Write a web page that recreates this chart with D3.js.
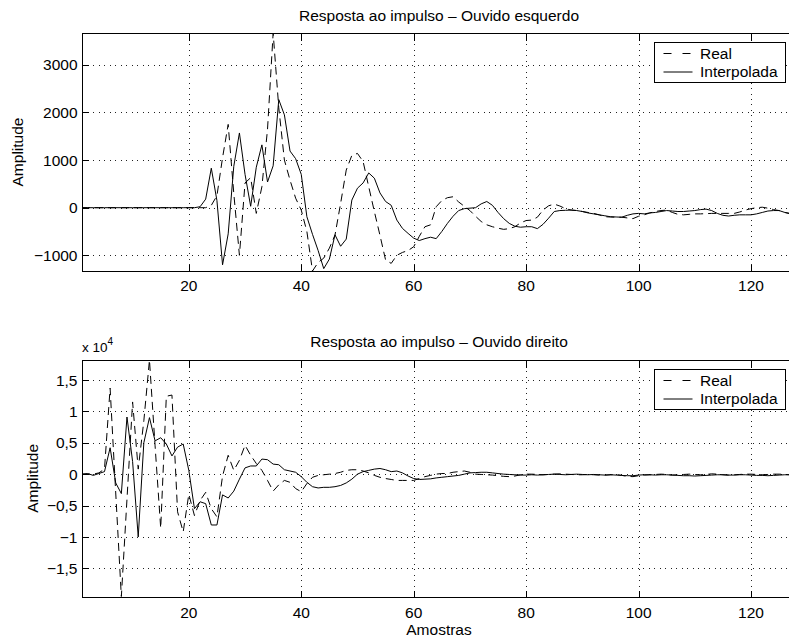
<!DOCTYPE html>
<html>
<head>
<meta charset="utf-8">
<script src="https://cdn.jsdelivr.net/npm/d3@7"></script>
<style>
  html, body { margin: 0; padding: 0; background: #fff; overflow: hidden; }
  svg { display: block; font-family: "Liberation Sans", Arial, Helvetica, sans-serif; }
</style>
</head>
<body>
<svg id="fig" width="789" height="641"></svg>
<script>
// Sample axis
const sampleCount = 128;
const xTicks = [20, 40, 60, 80, 100, 120];
const seriesNames = ["Real", "Interpolada"];
const titles = ["Resposta ao impulso \u2013 Ouvido esquerdo", "Resposta ao impulso \u2013 Ouvido direito"];

// Left ear impulse response (amplitude)
const leftReal = [
  0,0,0,0,0,0,0,0,0,0, 0,0,0,0,0,0,0,0,0,0,
  0,0,0,50,250,1050,1750,300,-1000,520,
  630,-120,440,1650,3670,2100,1000,580,200,-50,
  -500,-1330,-1150,-1060,-850,-575,90,790,1100,1140,
  970,440,-80,-580,-1100,-1170,-1000,-940,-900,-820,
  -600,-400,-360,20,150,210,230,120,30,-60,
  -180,-290,-360,-400,-430,-455,-440,-400,-320,-270,
  -260,-200,-50,40,75,35,-20,-50,-60,-80,
  -100,-120,-150,-190,-195,-200,-200,-215,-230,-180,
  -150,-110,-80,-60,-50,-100,-140,-150,-140,-130,
  -130,-125,-120,-120,-120,-120,-120,-90,-50,-20,
  0,10,-10,-40,-60,-100,-120,-130
];
const leftInterp = [
  0,0,0,0,0,0,0,0,0,0, 0,0,0,0,0,0,0,0,0,0,
  0,20,180,830,150,-1200,-550,870,1570,700,
  30,850,1320,540,880,2270,1950,1190,1030,700,
  -190,-560,-900,-1280,-1080,-570,-810,-660,160,410,
  520,730,620,310,130,50,-260,-435,-540,-640,
  -690,-650,-620,-650,-500,-330,-180,-60,-20,-10,
  0,80,130,50,-100,-230,-330,-390,-410,-400,
  -400,-440,-350,-220,-80,-60,-55,-50,-60,-80,
  -110,-130,-150,-170,-190,-195,-200,-160,-130,-120,
  -130,-110,-100,-80,-60,-70,-80,-80,-70,-60,
  -40,-30,-60,-120,-160,-175,-160,-150,-150,-150,
  -130,-100,-70,-60,-60,-100,-130,-140
];
const leftTicks = [-1000, 0, 1000, 2000, 3000];
const leftTickLabels = ["\u22121000", "0", "1000", "2000", "3000"];

// Right ear impulse response (amplitude, in units of 10^4)
const rightExponent = 4;
const rightReal = [
  0,0,0,0.02,0.08,1.37,-0.3,-1.952,-0.4,1.15,
  0.08,0.85,1.818,0.45,-0.86,1.24,1.26,-0.6,-0.92,-0.32,
  -0.66,-0.42,-0.29,-0.55,-0.68,-0.03,0.3,0.06,0.22,0.46,
  0.3,0.17,0.06,-0.1,-0.27,-0.17,-0.1,-0.13,-0.23,-0.28,
  -0.15,-0.05,-0.02,-0.01,0,0.01,0.03,0.06,0.07,0.07,
  0.05,0.02,-0.02,-0.05,-0.07,-0.085,-0.1,-0.1,-0.1,-0.1,
  -0.07,-0.04,-0.02,0,0.01,0.01,0.03,0.04,0.05,0.03,
  0,-0.005,-0.01,-0.015,-0.025,-0.035,-0.04,-0.03,-0.01,0,
  0,-0.005,-0.01,-0.005,0,0.005,0,-0.005,-0.01,-0.01,
  -0.005,-0.01,-0.015,-0.015,-0.01,-0.005,-0.02,-0.035,-0.04,-0.025,
  -0.015,-0.01,-0.005,0,-0.005,-0.015,-0.01,-0.005,0,-0.005,
  -0.01,-0.005,0.005,0,-0.01,-0.015,-0.01,-0.005,0,0,
  -0.005,-0.01,-0.005,0,0,-0.005,-0.01,-0.01
];
const rightInterp = [
  0,0.01,-0.02,0.01,0.04,0.42,-0.14,-0.31,0.91,0.2,
  -1.0,0.5,0.9,0.53,0.58,0.48,0.29,0.43,0.48,0.06,
  -0.55,-0.44,-0.47,-0.81,-0.81,-0.33,-0.38,-0.27,-0.08,0.1,
  0.13,0.13,0.24,0.23,0.16,0.15,0.07,0.05,0.03,-0.04,
  -0.13,-0.2,-0.22,-0.21,-0.21,-0.2,-0.18,-0.14,-0.08,0,
  0.04,0.06,0.08,0.09,0.07,0.04,0.05,0.02,-0.03,-0.07,
  -0.085,-0.08,-0.075,-0.06,-0.05,-0.04,-0.03,-0.02,0,0.02,
  0.025,0.03,0.03,0.02,0.01,0,-0.005,-0.01,-0.015,-0.015,
  -0.01,-0.015,-0.01,-0.005,0,-0.005,-0.01,-0.005,0,-0.005,
  -0.01,-0.005,-0.01,-0.015,-0.01,-0.015,-0.02,-0.025,-0.025,-0.015,
  -0.01,-0.01,-0.015,-0.01,-0.01,-0.015,-0.02,-0.025,-0.025,-0.03,
  -0.025,-0.02,-0.015,-0.01,-0.01,-0.015,-0.015,-0.01,-0.01,-0.015,
  -0.02,-0.02,-0.025,-0.02,-0.015,-0.01,-0.01,-0.01
];
const rightTicks = [-1.5, -1, -0.5, 0, 0.5, 1, 1.5];
const rightTickLabels = ["\u22121,5", "\u22121", "\u22120,5", "0", "0,5", "1", "1,5"];

const samples = d3.range(1, sampleCount + 1);

const svg = d3.select("#fig");
const FONT = 15.5;
const left = 82, right = 796;

const panels = [
  { title: titles[0], real: leftReal, interp: leftInterp, ticks: leftTicks, labels: leftTickLabels,
    top: 33, bottom: 271, titleY: 21, xLabelY: 290.5, yLabelX: 23, exponent: null },
  { title: titles[1], real: rightReal, interp: rightInterp, ticks: rightTicks, labels: rightTickLabels,
    top: 360, bottom: 596.7, titleY: 347, xLabelY: 618, yLabelX: 37.5, exponent: rightExponent }
];

const x = d3.scaleLinear().domain([1, sampleCount]).range([left, right]);
const TICK = 7;

panels.forEach((p, i) => {
  const all = p.real.concat(p.interp);
  const y = d3.scaleLinear().domain(d3.extent(all)).range([p.bottom, p.top]);
  const g = svg.append("g");

  const clipId = "clip" + i;
  svg.append("clipPath").attr("id", clipId)
    .append("rect").attr("x", left).attr("y", p.top)
    .attr("width", right - left).attr("height", p.bottom - p.top);

  // dotted grid
  const grid = g.append("g").attr("stroke", "#222").attr("stroke-width", 1)
    .attr("stroke-dasharray", "1,4.5").attr("shape-rendering", "crispEdges");
  grid.selectAll("line.v").data(xTicks).join("line")
    .attr("x1", d => Math.round(x(d)) + 0.5).attr("x2", d => Math.round(x(d)) + 0.5)
    .attr("y1", p.top).attr("y2", p.bottom);
  grid.selectAll("line.h").data(p.ticks).join("line")
    .attr("x1", left).attr("x2", right)
    .attr("y1", d => Math.round(y(d)) + 0.5).attr("y2", d => Math.round(y(d)) + 0.5);

  // data lines
  const line = d3.line().x((d, k) => x(samples[k])).y(d => y(d));
  const plot = g.append("g").attr("clip-path", `url(#${clipId})`)
    .attr("fill", "none").attr("stroke", "#000").attr("stroke-width", 1);
  plot.append("path").datum(p.real).attr("d", line).attr("stroke-dasharray", "8,5");
  plot.append("path").datum(p.interp).attr("d", line);

  // axes frame
  const yT = Math.round(p.top) + 0.5, yB = Math.round(p.bottom) + 0.5;
  g.append("rect").attr("x", left + 0.5).attr("y", yT)
    .attr("width", right - left).attr("height", yB - yT)
    .attr("fill", "none").attr("stroke", "#000").attr("stroke-width", 1)
    .attr("shape-rendering", "crispEdges");

  // inward ticks
  const ticks = g.append("g").attr("stroke", "#000").attr("stroke-width", 1).attr("shape-rendering", "crispEdges");
  xTicks.forEach(t => {
    const xp = Math.round(x(t)) + 0.5;
    ticks.append("line").attr("x1", xp).attr("x2", xp).attr("y1", yB).attr("y2", yB - TICK);
    ticks.append("line").attr("x1", xp).attr("x2", xp).attr("y1", yT).attr("y2", yT + TICK);
  });
  p.ticks.forEach(t => {
    const yp = Math.round(y(t)) + 0.5;
    ticks.append("line").attr("x1", left).attr("x2", left + TICK).attr("y1", yp).attr("y2", yp);
    ticks.append("line").attr("x1", right).attr("x2", right - TICK).attr("y1", yp).attr("y2", yp);
  });

  // tick labels
  g.append("g").attr("font-size", FONT).attr("text-anchor", "middle")
    .selectAll("text").data(xTicks).join("text")
    .attr("x", d => x(d)).attr("y", p.xLabelY).text(d => d);
  g.append("g").attr("font-size", FONT).attr("text-anchor", "end")
    .selectAll("text").data(p.ticks).join("text")
    .attr("x", 77.5).attr("y", d => y(d)).attr("dy", "0.36em")
    .text((d, k) => p.labels[k]);

  // title
  g.append("text").attr("x", (left + right) / 2).attr("y", p.titleY)
    .attr("text-anchor", "middle").attr("font-size", FONT).text(p.title);

  // y label
  g.append("text").attr("transform", `translate(${p.yLabelX},${(p.top + p.bottom) / 2}) rotate(-90)`)
    .attr("text-anchor", "middle").attr("font-size", FONT).text("Amplitude");

  // exponent marker
  if (p.exponent !== null) {
    const ex = g.append("text").attr("x", left).attr("y", 351.5).attr("font-size", 13.5);
    ex.append("tspan").text("x 10");
    ex.append("tspan").attr("font-size", 10).attr("dy", -7).text(p.exponent);
  }

  // legend
  const lx = 654.5, ly = Math.round(p.top + 8.5) + 0.5;
  const lg = g.append("g");
  lg.append("rect").attr("x", lx).attr("y", ly).attr("width", 131).attr("height", 40)
    .attr("fill", "#fff").attr("stroke", "#000").attr("stroke-width", 1).attr("shape-rendering", "crispEdges");
  lg.append("line").attr("x1", lx + 9).attr("x2", lx + 38).attr("y1", ly + 11).attr("y2", ly + 11)
    .attr("stroke", "#000").attr("stroke-dasharray", "8,11");
  lg.append("line").attr("x1", lx + 9).attr("x2", lx + 38).attr("y1", ly + 29.5).attr("y2", ly + 29.5)
    .attr("stroke", "#000");
  lg.append("text").attr("x", lx + 45.5).attr("y", ly + 16.2).attr("font-size", FONT).text(seriesNames[0]);
  lg.append("text").attr("x", lx + 45.5).attr("y", ly + 34.6).attr("font-size", FONT).text(seriesNames[1]);
});

// shared x label
svg.append("text").attr("x", (left + right) / 2).attr("y", 635)
  .attr("text-anchor", "middle").attr("font-size", FONT).text("Amostras");
</script>
</body>
</html>
